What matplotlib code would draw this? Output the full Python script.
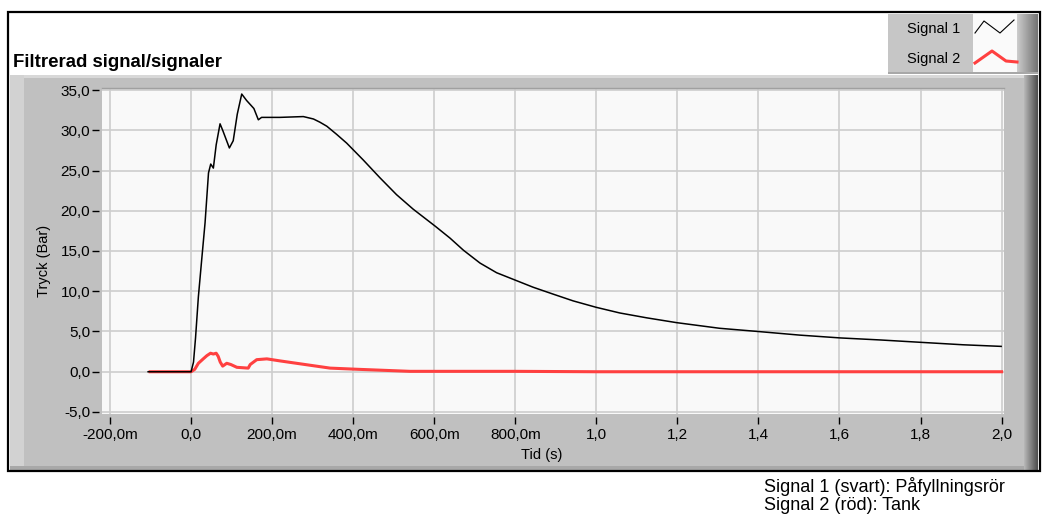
import numpy as np
import matplotlib.pyplot as plt
from matplotlib.patches import Rectangle
from matplotlib.lines import Line2D

plt.rcParams['font.family'] = ['Liberation Sans', 'DejaVu Sans']

# ---- data ----
t_sig1 = [-0.106, 0.0, 0.006, 0.011, 0.018, 0.026, 0.0345, 0.043, 0.0485, 0.055, 0.062,
          0.0715, 0.078, 0.0945, 0.104, 0.114, 0.125, 0.137, 0.155, 0.166, 0.174,
          0.219, 0.277, 0.302, 0.318, 0.335, 0.359, 0.384, 0.425, 0.466, 0.507,
          0.548, 0.602, 0.639, 0.672, 0.713, 0.754, 0.799, 0.844, 0.893, 0.943,
          1.0, 1.058, 1.124, 1.198, 1.304, 1.399, 1.502, 1.602, 1.70, 1.802,
          1.905, 1.999]
p_sig1 = [0.0, 0.0, 1.2, 4.2, 9.3, 13.8, 18.5, 24.7, 25.8, 25.3, 28.2,
          30.8, 30.0, 27.8, 28.7, 32.0, 34.5, 33.7, 32.7, 31.3, 31.6,
          31.6, 31.7, 31.4, 31.0, 30.5, 29.5, 28.4, 26.3, 24.1, 22.0,
          20.2, 18.1, 16.6, 15.1, 13.5, 12.3, 11.4, 10.5, 9.65, 8.8,
          8.0, 7.3, 6.7, 6.1, 5.4, 5.0, 4.55, 4.2, 3.95, 3.65,
          3.35, 3.15]

t_sig2 = [-0.101, 0.0, 0.009, 0.018, 0.03, 0.039, 0.048, 0.055, 0.062, 0.067, 0.072,
          0.078, 0.088, 0.098, 0.113, 0.141, 0.146, 0.162, 0.187, 0.219, 0.285,
          0.343, 0.413, 0.540, 0.8, 1.0, 1.2, 1.6, 2.0]
p_sig2 = [0.0, 0.0, 0.3, 1.05, 1.6, 2.0, 2.3, 2.2, 2.3, 1.9, 1.2,
          0.7, 1.05, 0.9, 0.55, 0.45, 0.9, 1.5, 1.6, 1.35, 0.87,
          0.45, 0.3, 0.05, 0.05, 0.0, 0.0, 0.0, 0.0]

series_names = ['Signal 1', 'Signal 2']
series_colors = ['black', '#ff4040']

x_ticks = [-0.2, 0.0, 0.2, 0.4, 0.6, 0.8, 1.0, 1.2, 1.4, 1.6, 1.8, 2.0]
x_ticklabels = ['-200,0m', '0,0', '200,0m', '400,0m', '600,0m', '800,0m',
                '1,0', '1,2', '1,4', '1,6', '1,8', '2,0']
y_ticks = [-5, 0, 5, 10, 15, 20, 25, 30, 35]
y_ticklabels = ['-5,0', '0,0', '5,0', '10,0', '15,0', '20,0', '25,0', '30,0', '35,0']

title = 'Filtrerad signal/signaler'
notes = ['Signal 1 (svart): Påfyllningsrör', 'Signal 2 (röd): Tank']

# ---- figure and panel decoration (pixel coords, origin top-left) ----
W, H = 1048, 520
fig = plt.figure(figsize=(W / 100, H / 100), dpi=100)
fig.patch.set_facecolor('white')

def box(x0, y0, x1, y1, color, z=0, **kw):
    fig.add_artist(Rectangle((x0 / W, 1 - y1 / H), (x1 - x0) / W, (y1 - y0) / H,
                             transform=fig.transFigure, facecolor=color,
                             edgecolor='none', zorder=z, **kw))

def gradient(x0, y0, x1, y1, c0, c1):
    gax = fig.add_axes([x0 / W, 1 - y1 / H, (x1 - x0) / W, (y1 - y0) / H])
    g = np.linspace(0, 1, 32)[None, :, None]
    img = np.array(c0)[None, None, :] * (1 - g) + np.array(c1)[None, None, :] * g
    gax.imshow(img, aspect='auto', interpolation='bilinear')
    gax.set_axis_off()

box(10, 75, 1038, 470, '#c0c0c0')
box(10, 75, 1038, 78, '#d8d8d8')
box(10, 75, 24, 470, '#d2d2d2')
box(10, 466, 1038, 470, '#a8a8a8')
gradient(1024, 75, 1038, 470, (0.72, 0.72, 0.72), (0.30, 0.30, 0.30))

# legend block
box(888, 14, 1038, 72, '#c6c6c6')
box(888, 72, 1038, 74, '#a8a8a8')
gradient(1017, 14, 1038, 72, (0.80, 0.80, 0.80), (0.45, 0.45, 0.45))
box(973, 14, 1017, 72, '#fafafa')

# outer frame
fig.add_artist(Rectangle((8 / W, 1 - 471 / H), 1032 / W, 459 / H,
                         transform=fig.transFigure, facecolor='none',
                         edgecolor='black', linewidth=1.6, zorder=10))

fig.text(13 / W, 1 - 67 / H, title, fontsize=13.4, fontweight='bold',
         va='baseline', ha='left')

# legend entries
fig.text(960 / W, 1 - 29 / H, series_names[0], fontsize=10.5, ha='right', va='center')
fig.text(960 / W, 1 - 59 / H, series_names[1], fontsize=10.5, ha='right', va='center')
zz1 = np.array([[975, 33], [984, 21], [1000, 33], [1014, 20]], float)
zz2 = np.array([[975, 63], [992, 51], [1006, 61], [1017, 62]], float)
fig.add_artist(Line2D(zz1[:, 0] / W, 1 - zz1[:, 1] / H, color=series_colors[0],
                      lw=0.8, transform=fig.transFigure, zorder=5))
fig.add_artist(Line2D(zz2[:, 0] / W, 1 - zz2[:, 1] / H, color=series_colors[1],
                      lw=2.2, transform=fig.transFigure, zorder=5))

# ---- the graph ----
ax = fig.add_axes([102 / W, 1 - 414 / H, 902 / W, 326 / H])
ax.set_facecolor('#f9f9f9')
ax.plot(t_sig2, p_sig2, color=series_colors[1], lw=2.2, zorder=3)
ax.plot(t_sig1, p_sig1, color=series_colors[0], lw=1.1, zorder=4)

ax.set_xlim(-0.2198, 2.006)
ax.set_ylim(-5.25, 35.25)
ax.set_xticks(x_ticks)
ax.set_xticklabels(x_ticklabels)
ax.set_yticks(y_ticks)
ax.set_yticklabels(y_ticklabels)
ax.grid(True, color='#cdcdcd', lw=1.2)
ax.set_axisbelow(True)

ax.spines['right'].set_visible(False)
ax.spines['top'].set_color('#a0a0a0')
ax.spines['top'].set_linewidth(1.0)
for s in ['left', 'bottom']:
    ax.spines[s].set_position(('outward', 2))
    ax.spines[s].set_color('none')
ax.tick_params(axis='both', direction='out', length=5, width=1, color='black',
               labelsize=11)
ax.tick_params(axis='y', pad=1.5)
ax.tick_params(axis='x', pad=3)

ax.set_xlabel('Tid (s)', fontsize=10.5)
ax.set_ylabel('Tryck (Bar)', fontsize=10.5)
ax.xaxis.set_label_coords(0.487, -0.105)
ax.yaxis.set_label_coords(-0.0565, 0.47)

fig.text(764 / W, 1 - 487 / H, notes[0], fontsize=13, va='center', ha='left')
fig.text(764 / W, 1 - 505 / H, notes[1], fontsize=13, va='center', ha='left')

fig.savefig('out.png', dpi=100, facecolor='white')
